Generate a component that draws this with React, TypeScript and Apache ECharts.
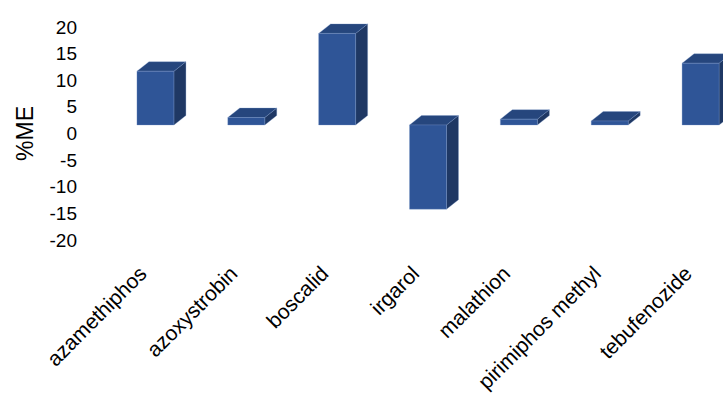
import React, { useEffect, useRef } from "react";
import * as echarts from "echarts";

const categories = [
  "azamethiphos",
  "azoxystrobin",
  "boscalid",
  "irgarol",
  "malathion",
  "pirimiphos methyl",
  "tebufenozide",
];
const meValues = [10.1, 1.4, 17.2, -15.8, 1.1, 0.75, 11.6];
const yTicks = { min: -20, max: 20, interval: 5 };

const FRONT = "#2F5597";
const TOP = "#26467D";
const SIDE = "#1F3864";

export default function App() {
  const ref = useRef<HTMLDivElement>(null);
  useEffect(() => {
    const chart = echarts.init(ref.current!, null, { renderer: "svg" });
    const depthX = 12;
    const depthY = 9.5;
    const shift = -8.5;
    chart.setOption({
      animation: false,
      backgroundColor: "#ffffff",
      grid: {
        left: 110,
        top: 27,
        width: 636,
        height: 213,
        containLabel: false,
        outerBoundsMode: "none",
      },
      xAxis: {
        type: "category",
        data: categories,
        axisLine: { show: false },
        axisTick: { show: false },
        axisLabel: {
          rotate: 45,
          margin: 17,
          padding: [0, 18, 0, 0],
          fontSize: 21,
          color: "#000",
          fontFamily: "Liberation Sans",
          interval: 0,
        },
      },
      yAxis: {
        type: "value",
        min: yTicks.min,
        max: yTicks.max,
        interval: yTicks.interval,
        name: "%ME",
        nameLocation: "middle",
        nameGap: 74,
        nameTextStyle: { fontSize: 23, color: "#000", fontFamily: "Liberation Sans" },
        axisLine: { show: false },
        axisTick: { show: false },
        splitLine: { show: false },
        axisLabel: {
          margin: 33,
          fontSize: 19,
          color: "#000",
          fontFamily: "Liberation Sans",
        },
      },
      series: [
        {
          type: "custom",
          data: meValues.map((v, i) => [i, v]),
          encode: { x: 0, y: 1 },
          renderItem: (params: any, api: any) => {
            const i = api.value(0);
            const v = api.value(1);
            const p0 = api.coord([i, 0]);
            const p1 = api.coord([i, v]);
            const band = api.size([1, 0])[0];
            const w = band * 0.407;
            const x0 = p0[0] - w / 2;
            const x1 = x0 + w;
            const yA = p0[1] + shift;
            const yB = p1[1] + shift;
            const yt = Math.min(yA, yB);
            const yb = Math.max(yA, yB);
            const edge = { stroke: "rgba(120,150,200,0.5)", lineWidth: 0.6 };
            return {
              type: "group",
              children: [
                {
                  type: "polygon",
                  shape: {
                    points: [
                      [x1, yt],
                      [x1 + depthX, yt - depthY],
                      [x1 + depthX, yb - depthY],
                      [x1, yb],
                    ],
                  },
                  style: { fill: SIDE, ...edge },
                },
                {
                  type: "polygon",
                  shape: {
                    points: [
                      [x0, yt],
                      [x1, yt],
                      [x1 + depthX, yt - depthY],
                      [x0 + depthX, yt - depthY],
                    ],
                  },
                  style: { fill: TOP, ...edge },
                },
                {
                  type: "rect",
                  shape: { x: x0, y: yt, width: w, height: yb - yt },
                  style: { fill: FRONT, ...edge },
                },
              ],
            };
          },
        },
      ],
    });
    return () => chart.dispose();
  }, []);
  return (
    <div
      style={{
        position: "fixed",
        left: 0,
        top: 0,
        width: 723,
        height: 396,
        overflow: "hidden",
        background: "#fff",
      }}
    >
      <div ref={ref} style={{ width: 760, height: 396 }} />
    </div>
  );
}
